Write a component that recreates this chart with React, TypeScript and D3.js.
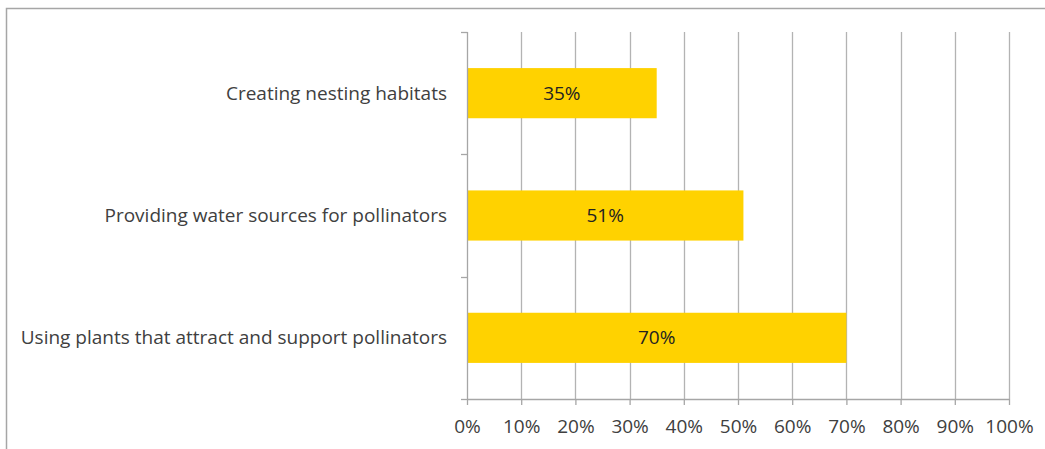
import React, {useEffect, useRef} from "react";
import * as d3 from "d3";

const categories = [
  "Creating nesting habitats",
  "Providing water sources for pollinators",
  "Using plants that attract and support pollinators",
];
const shares = [0.35, 0.51, 0.70];
const xTicks = [0, 0.1, 0.2, 0.3, 0.4, 0.5, 0.6, 0.7, 0.8, 0.9, 1];

const W = 1045;
const H = 449;
const margin = {top: 32, right: 36, bottom: 50, left: 467};
const font = "'Open Sans', sans-serif";
const textColor = "#404040";

function Chart() {
  const ref = useRef<SVGSVGElement>(null);

  useEffect(() => {
    const svg = d3.select(ref.current);
    svg.selectAll("*").remove();

    // outer frame, only top and left edges show
    svg.append("rect")
      .attr("x", 6.5).attr("y", 8.5)
      .attr("width", W + 20).attr("height", H + 20)
      .attr("fill", "#fff")
      .attr("stroke", "#a6a6a6")
      .attr("stroke-width", 1.5);

    const width = W - margin.left - margin.right;
    const height = H - margin.top - margin.bottom;

    const g = svg.append("g")
      .attr("transform", "translate(" + margin.left + "," + margin.top + ")");

    const x = d3.scaleLinear().domain([0, 1]).range([0, width]);
    const y = d3.scaleBand<string>()
      .domain(categories)
      .range([0, height])
      .paddingInner(0.59)
      .paddingOuter(0.295);

    // gridlines
    g.selectAll("line.grid")
      .data(xTicks.slice(1))
      .enter().append("line")
      .attr("class", "grid")
      .attr("x1", (d) => Math.round(x(d)) + 0.5)
      .attr("x2", (d) => Math.round(x(d)) + 0.5)
      .attr("y1", 0)
      .attr("y2", height)
      .attr("stroke", "#b3b3b3")
      .attr("stroke-width", 1.3);

    // bars
    g.selectAll("rect.bar")
      .data(shares)
      .enter().append("rect")
      .attr("class", "bar")
      .attr("x", 0)
      .attr("y", (d, i) => y(categories[i])!)
      .attr("width", (d) => x(d))
      .attr("height", y.bandwidth())
      .attr("fill", "#ffd200");

    g.selectAll("text.val")
      .data(shares)
      .enter().append("text")
      .attr("class", "val")
      .attr("x", (d) => x(d) / 2)
      .attr("y", (d, i) => y(categories[i])! + y.bandwidth() / 2)
      .attr("dy", "0.35em")
      .attr("text-anchor", "middle")
      .attr("font-family", font)
      .attr("font-size", 19)
      .attr("fill", "#222")
      .text((d) => d3.format(".0%")(d));

    // y axis with ticks between categories
    const yEdges = d3.range(categories.length + 1).map((i) => (height / categories.length) * i);
    g.append("line")
      .attr("x1", 0.5).attr("x2", 0.5)
      .attr("y1", 0).attr("y2", height)
      .attr("stroke", "#a6a6a6").attr("stroke-width", 1.3);
    g.selectAll("line.ytick")
      .data(yEdges)
      .enter().append("line")
      .attr("class", "ytick")
      .attr("x1", -6).attr("x2", 0.5)
      .attr("y1", (d) => Math.round(d) + 0.5)
      .attr("y2", (d) => Math.round(d) + 0.5)
      .attr("stroke", "#a6a6a6").attr("stroke-width", 1.3);

    g.selectAll("text.cat")
      .data(categories)
      .enter().append("text")
      .attr("class", "cat")
      .attr("x", -20)
      .attr("y", (d) => y(d)! + y.bandwidth() / 2)
      .attr("dy", "0.35em")
      .attr("text-anchor", "end")
      .attr("font-family", font)
      .attr("font-size", 19)
      .attr("fill", textColor)
      .text((d) => d);

    // x axis
    const xAxis = d3.axisBottom(x)
      .tickValues(xTicks)
      .tickFormat(d3.format(".0%"))
      .tickSize(6)
      .tickSizeOuter(0);
    const xg = g.append("g")
      .attr("transform", "translate(0," + height + ")")
      .call(xAxis);
    xg.select(".domain").attr("stroke", "#a6a6a6").attr("stroke-width", 1.3);
    xg.selectAll(".tick line").attr("stroke", "#a6a6a6").attr("stroke-width", 1.3);
    xg.selectAll(".tick text")
      .attr("y", 21)
      .attr("font-family", font)
      .attr("font-size", 19)
      .attr("fill", textColor);
  }, []);

  return <svg ref={ref} width={W} height={H} style={{position: "absolute", left: 0, top: 0}} />;
}

export default function App() {
  return <Chart />;
}
